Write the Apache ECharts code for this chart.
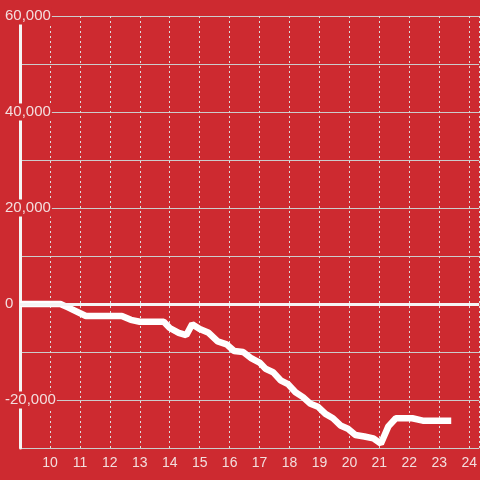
<!DOCTYPE html>
<html>
<head>
<meta charset="utf-8">
<script src="https://cdn.jsdelivr.net/npm/echarts@6/dist/echarts.min.js"></script>
<style>
  html, body { margin: 0; padding: 0; background: #cd2a30; }
  #chart { width: 480px; height: 480px; }
</style>
</head>
<body>
<div id="chart"></div>
<script>
// hour of day (x) and value (y)
var hours = [9, 10.35, 10.6, 11.2, 12.4, 12.7, 13.0, 13.8, 14.0, 14.3, 14.55, 14.75, 15.0, 15.3, 15.6, 15.9,
  16.15, 16.45, 16.7, 17.0, 17.2, 17.45, 17.7, 17.95, 18.2, 18.45, 18.7, 18.95, 19.2, 19.45, 19.7, 19.95,
  20.2, 20.5, 20.8, 21.05, 21.3, 21.55, 22.1, 22.45, 23.4];
var values = [0, 0, -700, -2500, -2500, -3300, -3700, -3700, -5000, -6000, -6500, -4200, -5200, -6000, -7800, -8400,
  -9800, -10000, -11200, -12200, -13500, -14200, -15900, -16700, -18400, -19400, -20800, -21400, -22900, -23800, -25300, -26000,
  -27300, -27600, -28000, -29100, -25500, -23800, -23800, -24300, -24300];
var yShown = [60000, 40000, 20000, 0, -20000];

var bg = '#cd2a30';
var chart = echarts.init(document.getElementById('chart'));

var points = hours.map(function (h, i) { return [h, values[i]]; });

var option = {
  backgroundColor: bg,
  animation: false,
  grid: { left: 20, right: 0, top: 16, bottom: 32 },
  xAxis: {
    type: 'value',
    min: 9,
    max: 9 + 460 / 30,
    interval: 1,
    axisLine: { show: false },
    axisTick: { show: false },
    axisLabel: {
      showMinLabel: false,
      showMaxLabel: false,
      color: '#f3dede',
      fontSize: 14,
      fontFamily: 'Liberation Sans, Arial, sans-serif',
      margin: 8
    },
    splitLine: { show: true, lineStyle: { color: '#ddd', type: [2, 3], width: 1 } }
  },
  yAxis: {
    type: 'value',
    min: -30000,
    max: 60000,
    interval: 10000,
    axisLine: { show: true, onZero: false, lineStyle: { color: '#f5f5f5', width: 3 } },
    axisTick: { show: false },
    axisLabel: {
      align: 'left',
      margin: 15,
      color: '#f3dede',
      fontSize: 15,
      fontFamily: 'Liberation Sans, Arial, sans-serif',
      backgroundColor: bg,
      padding: [1, 1, 1, 0],
      formatter: function (v) {
        return yShown.indexOf(v) >= 0 ? v.toLocaleString('en-US') : '';
      }
    },
    splitLine: { show: true, lineStyle: { color: '#ccc', width: 1 } }
  },
  series: [{
    type: 'line',
    data: points,
    showSymbol: false,
    lineStyle: { color: '#fff', width: 6.5 },
    markLine: {
      silent: true,
      symbol: 'none',
      label: { show: false },
      lineStyle: { color: '#f5f5f5', width: 3, type: 'solid' },
      data: [{ yAxis: 0 }]
    }
  }]
};
chart.setOption(option);
</script>
</body>
</html>
